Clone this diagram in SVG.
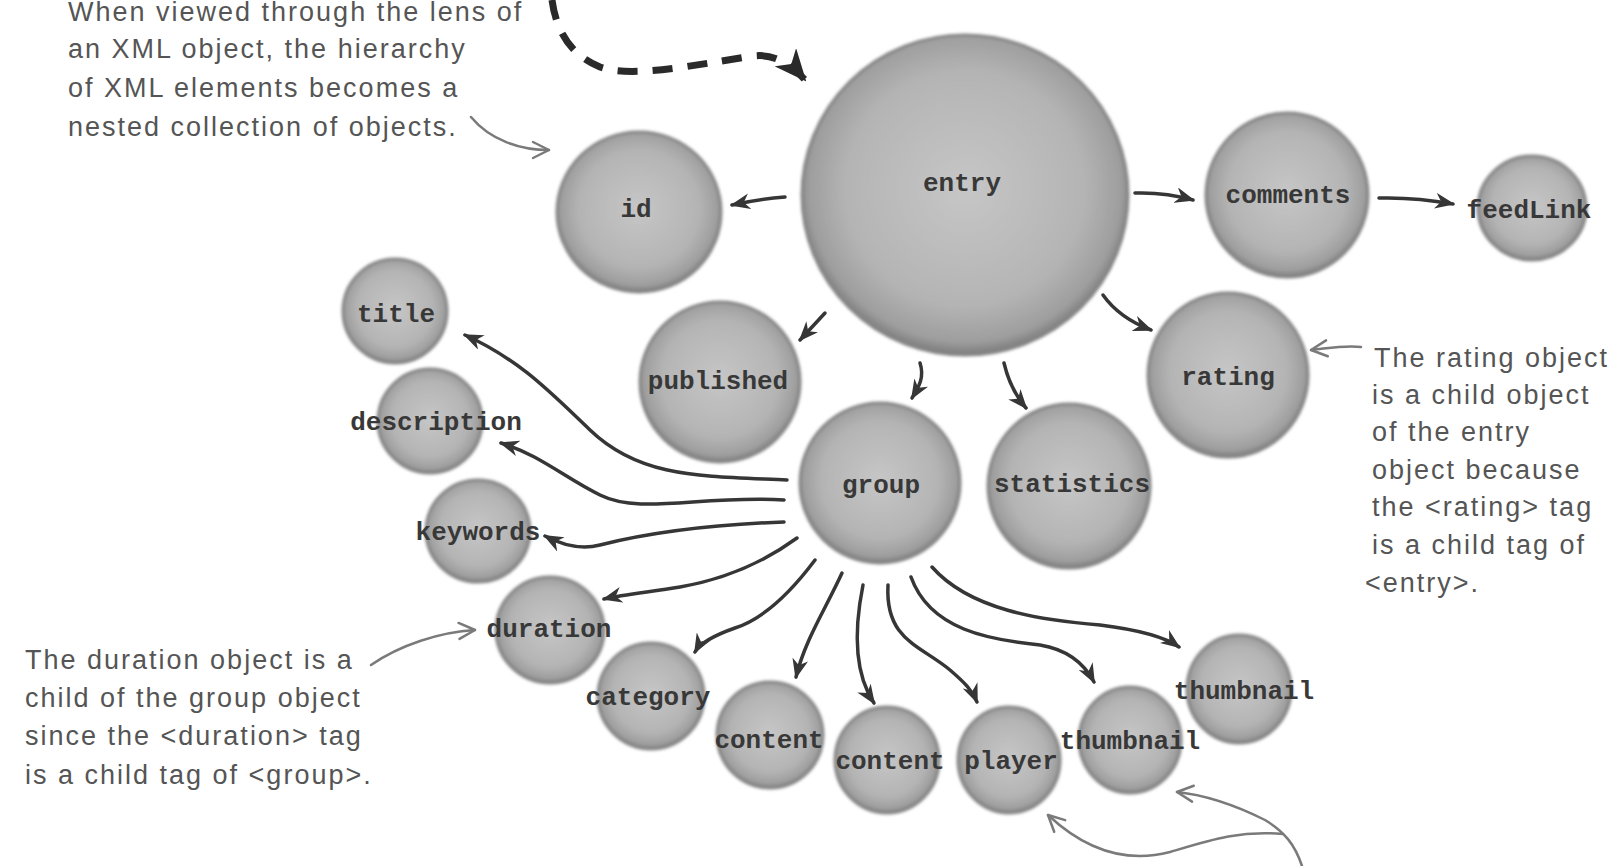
<svg xmlns="http://www.w3.org/2000/svg" width="1622" height="866" viewBox="0 0 1622 866">
<defs>
<radialGradient id="g" cx="50%" cy="48%" r="52%">
<stop offset="0" stop-color="#c6c6c6"/>
<stop offset="0.7" stop-color="#b4b4b4"/>
<stop offset="0.92" stop-color="#9e9e9e"/>
<stop offset="1" stop-color="#7b7b7b"/>
</radialGradient>
<filter id="soft" x="-10%" y="-10%" width="120%" height="120%">
<feGaussianBlur stdDeviation="1.4"/>
</filter>
<marker id="ah" viewBox="0 0 20 16" refX="18" refY="8" markerWidth="20" markerHeight="16" markerUnits="userSpaceOnUse" orient="auto">
<path d="M0,0 L20,8 L0,16 L6,8 z" fill="#363636"/>
</marker>
<marker id="ag" viewBox="0 0 20 20" refX="18" refY="10" markerWidth="20" markerHeight="20" markerUnits="userSpaceOnUse" orient="auto">
<path d="M2,2 L18,10 L2,18" fill="none" stroke="#7a7a7a" stroke-width="2.5" stroke-linecap="round" stroke-linejoin="round"/>
</marker>
<marker id="ad" viewBox="0 0 32 28" refX="30" refY="14" markerWidth="32" markerHeight="28" markerUnits="userSpaceOnUse" orient="auto">
<path d="M0,0 L32,14 L0,28 L9,14 z" fill="#2a2a2a"/>
</marker>
</defs>
<style>
.n{fill:url(#g);stroke:#858585;stroke-width:3;filter:url(#soft)}
.t{font-family:"Liberation Mono","Courier New",monospace;font-size:26px;font-weight:bold;fill:#383838;text-anchor:middle;dominant-baseline:central}
.c{fill:none;stroke:#363636;stroke-width:3.5;stroke-linecap:round;marker-end:url(#ah)}
.a{fill:none;stroke:#7a7a7a;stroke-width:2.5;stroke-linecap:round;marker-end:url(#ag)}
.h{font-family:"Liberation Sans",Arial,sans-serif;font-size:27px;letter-spacing:2px;fill:#555}
</style>
<rect width="1622" height="866" fill="#fff"/>

<g id="annotations">
<text class="h" x="68" y="21">When viewed through the lens of</text>
<text class="h" x="68" y="58">an XML object, the hierarchy</text>
<text class="h" x="68" y="97">of XML elements becomes a</text>
<text class="h" x="68" y="136">nested collection of objects.</text>
<path class="a" d="M471,117 C490,140 520,150 549,150"/>
<text class="h" x="1374" y="367">The rating object</text>
<text class="h" x="1372" y="404">is a child object</text>
<text class="h" x="1372" y="441">of the entry</text>
<text class="h" x="1372" y="479">object because</text>
<text class="h" x="1372" y="516">the &lt;rating&gt; tag</text>
<text class="h" x="1372" y="554">is a child tag of</text>
<text class="h" x="1365" y="592">&lt;entry&gt;.</text>
<path class="a" d="M1361,347 C1345,345 1330,348 1311,350"/>
<text class="h" x="25" y="669">The duration object is a</text>
<text class="h" x="25" y="707">child of the group object</text>
<text class="h" x="25" y="745">since the &lt;duration&gt; tag</text>
<text class="h" x="25" y="784">is a child tag of &lt;group&gt;.</text>
<path class="a" d="M371,665 C400,645 440,632 475,630"/>
<path class="a" d="M1302,866 C1295,845 1285,832 1265,820 C1235,805 1205,795 1177,792"/>
<path class="a" d="M1283,834 C1240,830 1210,840 1170,852 C1120,865 1080,845 1048,815"/>
<path d="M552,0 C556,30 570,55 600,67 C630,78 690,66 753,56 C775,53 793,66 805,80" fill="none" stroke="#2a2a2a" stroke-width="7" stroke-dasharray="20 15" marker-end="url(#ad)"/>
</g>

<g id="connectors">
<path class="c" d="M785,197 Q760,199 732,205"/>
<path class="c" d="M1135,193 Q1165,192 1193,200"/>
<path class="c" d="M1379,198 Q1415,197 1453,204"/>
<path class="c" d="M825,313 L800,340"/>
<path class="c" d="M920,363 C925,378 918,388 912,398"/>
<path class="c" d="M1004,363 C1008,380 1015,395 1026,408"/>
<path class="c" d="M1103,295 C1115,312 1130,322 1151,330"/>
<path class="c" d="M787,480 C700,476 640,478 590,430 C550,392 520,360 465,335"/>
<path class="c" d="M784,500 C700,495 640,515 600,495 C565,478 540,455 501,443"/>
<path class="c" d="M784,522 C700,525 640,535 600,545 C580,550 562,545 545,536"/>
<path class="c" d="M797,538 C760,565 720,580 680,587 C650,592 625,594 604,599"/>
<path class="c" d="M815,560 C785,600 760,620 735,628 C715,635 700,643 695,652"/>
<path class="c" d="M842,573 C825,610 805,640 796,677"/>
<path class="c" d="M863,585 C855,625 852,670 874,703"/>
<path class="c" d="M888,585 C885,640 920,645 950,670 C965,683 972,690 977,702"/>
<path class="c" d="M911,577 C930,630 990,640 1040,645 C1070,650 1085,665 1094,682"/>
<path class="c" d="M932,567 C970,610 1040,620 1100,625 C1140,630 1165,637 1179,647"/>
</g>

<g id="node-entry"><ellipse class="n" cx="965" cy="195" rx="163" ry="160"/><text class="t" x="962" y="184">entry</text></g>
<g id="node-id"><ellipse class="n" cx="639" cy="212" rx="82" ry="80"/><text class="t" x="636" y="210">id</text></g>
<g id="node-comments"><ellipse class="n" cx="1287" cy="195" rx="81" ry="82"/><text class="t" x="1288" y="196">comments</text></g>
<g id="node-feedLink"><ellipse class="n" cx="1532" cy="208" rx="54" ry="52"/><text class="t" x="1529" y="211">feedLink</text></g>
<g id="node-rating"><ellipse class="n" cx="1228" cy="375" rx="80" ry="82"/><text class="t" x="1228" y="378">rating</text></g>
<g id="node-published"><ellipse class="n" cx="720" cy="382" rx="80" ry="80"/><text class="t" x="718" y="382">published</text></g>
<g id="node-statistics"><ellipse class="n" cx="1069" cy="486" rx="81" ry="82"/><text class="t" x="1072" y="485">statistics</text></g>
<g id="node-group"><ellipse class="n" cx="880" cy="483" rx="80" ry="80"/><text class="t" x="881" y="486">group</text></g>
<g id="node-title"><ellipse class="n" cx="395" cy="311" rx="52" ry="52"/><text class="t" x="396" y="315">title</text></g>
<g id="node-description"><ellipse class="n" cx="430" cy="421" rx="52" ry="52"/><text class="t" x="436" y="423">description</text></g>
<g id="node-keywords"><ellipse class="n" cx="478" cy="531" rx="52" ry="51"/><text class="t" x="478" y="533">keywords</text></g>
<g id="node-duration"><ellipse class="n" cx="550" cy="630" rx="54" ry="53"/><text class="t" x="549" y="630">duration</text></g>
<g id="node-category"><ellipse class="n" cx="651" cy="696" rx="53" ry="53"/><text class="t" x="648" y="698">category</text></g>
<g id="node-content1"><ellipse class="n" cx="770" cy="735" rx="53" ry="53"/><text class="t" x="769" y="741">content</text></g>
<g id="node-content2"><ellipse class="n" cx="887" cy="760" rx="52" ry="53"/><text class="t" x="890" y="762">content</text></g>
<g id="node-player"><ellipse class="n" cx="1009" cy="760" rx="51" ry="53"/><text class="t" x="1011" y="762">player</text></g>
<g id="node-thumbnail1"><ellipse class="n" cx="1130" cy="740" rx="51" ry="53"/><text class="t" x="1130" y="742">thumbnail</text></g>
<g id="node-thumbnail2"><ellipse class="n" cx="1239" cy="689" rx="52" ry="54"/><text class="t" x="1244" y="692">thumbnail</text></g>
</svg>
